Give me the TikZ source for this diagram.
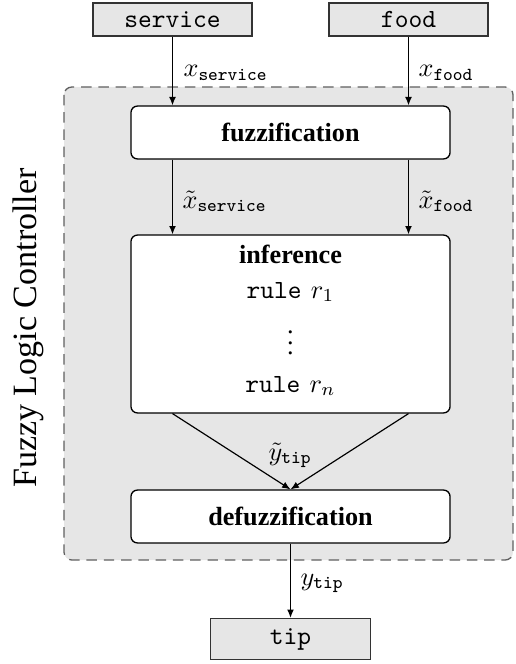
\documentclass[tikz,border=0pt]{standalone}
\usepackage{fontspec}
\setmainfont{Liberation Serif}
\usetikzlibrary{arrows.meta}
\definecolor{boxgray}{HTML}{E6E6E6}
\definecolor{dashgray}{HTML}{606060}
\tikzset{
  iobox/.style={draw=black!80, fill=boxgray, line width=0.5pt, inner sep=0pt, font=\ttfamily},
  procbox/.style={draw=black, fill=white, rounded corners=2.5pt, line width=0.5pt, inner sep=0pt,
     minimum width=121.8pt, font=\bfseries},
  conn/.style={-{Latex[length=3.2pt,width=2.6pt]}, line width=0.45pt},
  lbl/.style={inner sep=0pt, anchor=base west},
  region/.style={draw=dashgray, fill=boxgray, dash pattern=on 4pt off 2.6pt, line width=0.5pt, rounded corners=3pt}
}
\begin{document}
\begin{tikzpicture}[x=0.3817pt,y=-0.3817pt]
\useasboundingbox (0,0) rectangle (515,664);
% controller region
\path[region] (64,87) rectangle (513,560);
\node[rotate=90, inner sep=0pt, font=\fontsize{13}{15}\selectfont] (flc) at (28,328) {Fuzzy Logic Controller};
% io boxes
\node[iobox, minimum width=60.7pt, minimum height=12.6pt] (service) at (172.5,19.5) {service};
\node[iobox, minimum width=60.7pt, minimum height=12.6pt] (food) at (408.5,19.5) {food};
\node[iobox, minimum width=61.1pt, minimum height=15.6pt] (tip) at (290.5,639) {tip};
% processing boxes
\node[procbox, minimum height=20.2pt] (fuzz) at (290.5,132.5) {fuzzification};
\node[procbox, minimum height=67.9pt] (inf) at (290.5,324) {};
\node[procbox, minimum height=20.2pt] (defuzz) at (290.5,516.5) {defuzzification};
% inference contents
\node[inner sep=0pt, anchor=base, font=\bfseries] (inftitle) at (290.5,263) {inference};
\node[inner sep=0pt, anchor=base] (rule1) at (290.5,298) {\texttt{rule}\hspace{0.35em}$r_1$};
\node[inner sep=0pt] (dots) at (290.5,335) {$\vdots$};
\node[inner sep=0pt, anchor=base] (rulen) at (290.5,392) {\texttt{rule}\hspace{0.35em}$r_n$};
% connectors
\draw[conn] (service.south) -- (service.south |- fuzz.north);
\draw[conn] (food.south) -- (food.south |- fuzz.north);
\draw[conn] (fuzz.south -| service.south) -- (inf.north -| service.south);
\draw[conn] (fuzz.south -| food.south) -- (inf.north -| food.south);
\draw[conn] (inf.south -| service.south) -- (defuzz.north);
\draw[conn] (inf.south -| food.south) -- (defuzz.north);
\draw[conn] (defuzz.south) -- (tip.north);
% labels
\node[lbl] (lxs) at (183,77) {$x_{\mathtt{service}}$};
\node[lbl] (lxf) at (418,77) {$x_{\mathtt{food}}$};
\node[lbl] (ltxs) at (182,208) {$\tilde{x}_{\mathtt{service}}$};
\node[lbl] (ltxf) at (418,208) {$\tilde{x}_{\mathtt{food}}$};
\node[lbl] (lty) at (268,460) {$\tilde{y}_{\mathtt{tip}}$};
\node[lbl] (ly) at (300,585) {$y_{\mathtt{tip}}$};
\end{tikzpicture}
\end{document}
